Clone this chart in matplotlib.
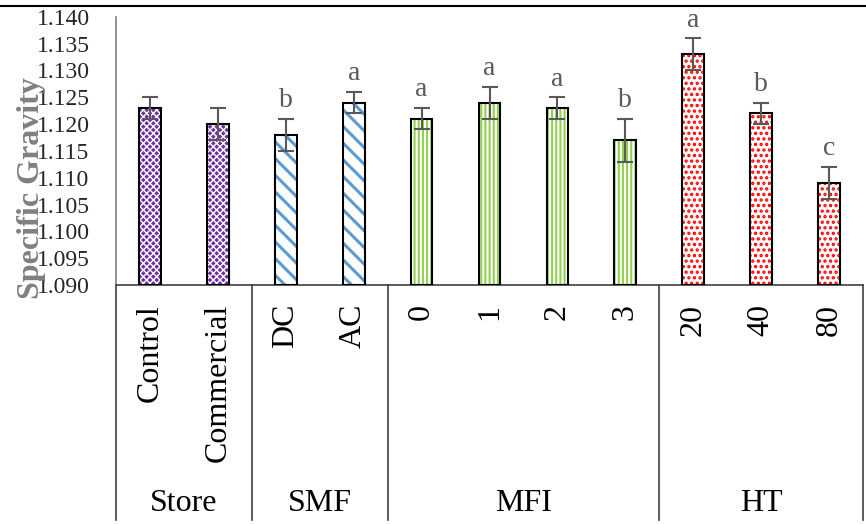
import numpy as np
import matplotlib
matplotlib.use('Agg')
import matplotlib.pyplot as plt
from matplotlib.lines import Line2D
import matplotlib.transforms as mtransforms

plt.rcParams['font.family'] = ['Liberation Serif', 'DejaVu Serif']

# data
labels = ['Control', 'Commercial', 'DC', 'AC', '0', '1', '2', '3', '20', '40', '80']
values = [1.123, 1.120, 1.118, 1.124, 1.121, 1.124, 1.123, 1.117, 1.133, 1.122, 1.109]
errors = [0.002, 0.003, 0.003, 0.002, 0.002, 0.003, 0.002, 0.004, 0.003, 0.002, 0.003]
letters = ['', '', 'b', 'a', 'a', 'a', 'a', 'b', 'a', 'b', 'c']
groups = ['Store', 'SMF', 'MFI', 'HT']
group_sizes = [2, 2, 4, 3]

# per-group look: face, hatch colour, hatch, hatch width
styles = [('#7030A0', 'white', 'xxxxx', 1.0),
          ('white', '#5B9BD5', '\\\\', 2.2),
          ('white', '#92D050', '||||', 1.5),
          ('white', '#FF0000', '...', 1.6)]

fig = plt.figure(figsize=(8.66, 5.24), dpi=100)
ax = fig.add_axes([0.134, 0.456, 0.8625, 0.512])

x = np.arange(len(labels))
w = 0.32
start = 0
for g, n in enumerate(group_sizes):
    face, hcol, hatch, hlw = styles[g]
    idx = x[start:start + n]
    vals = np.array(values[start:start + n])
    with plt.rc_context({'hatch.linewidth': hlw}):
        ax.bar(idx, vals - 1.090, w, bottom=1.090, color=face,
               edgecolor=hcol, hatch=hatch, linewidth=0, zorder=2)
    ax.bar(idx, vals - 1.090, w, bottom=1.090, color='none',
           edgecolor='black', linewidth=1.5, zorder=3)
    start += n

ax.errorbar(x, values, yerr=errors, fmt='none', ecolor='#595959',
            elinewidth=1.5, capsize=6, capthick=1.5, zorder=4)

for xi, v, e, t in zip(x, values, errors, letters):
    if t:
        ax.annotate(t, (xi, v + e), xytext=(0, 4), textcoords='offset points',
                    ha='center', va='bottom', fontsize=20, color='#595959')

ax.set_xlim(-0.5, len(labels) - 0.5)
ax.set_ylim(1.090, 1.140)
ticks = np.arange(1.090, 1.1401, 0.005)
ax.set_yticks(ticks)
ax.set_yticklabels(['%.3f' % v for v in ticks])
ax.tick_params(axis='y', length=0, labelsize=17, pad=19, labelcolor='#262626')
ax.set_xticks([])
for s in ['top', 'right']:
    ax.spines[s].set_visible(False)
ax.spines['left'].set_color('#7f7f7f')
ax.spines['bottom'].set_color('#404040')
ax.spines['left'].set_linewidth(1.2)
ax.spines['bottom'].set_linewidth(1.2)

ax.set_ylabel('Specific Gravity', fontsize=23, fontweight='bold', color='#808080')
ax.yaxis.set_label_coords(-0.113, 0.36)
ax.yaxis.label.set_va('center')

# multi-level category axis
trans = mtransforms.blended_transform_factory(ax.transData, ax.transAxes)
bounds = np.concatenate([[0], np.cumsum(group_sizes)]) - 0.5
for b in bounds:
    ax.plot([b, b], [0, -0.877], transform=trans, clip_on=False,
            color='#404040', lw=1.2)
for xi, lab in zip(x, labels):
    ax.text(xi, -0.07, lab, transform=trans, rotation=90, ha='center',
            va='top', fontsize=23)
for g, lab in enumerate(groups):
    ax.text((bounds[g] + bounds[g + 1]) / 2, -0.813, lab, transform=trans,
            ha='center', va='center', fontsize=23)

fig.add_artist(Line2D([0, 1], [1 - 6 / 524] * 2, color='black', lw=1.5))

fig.savefig('out.png', dpi=100)
